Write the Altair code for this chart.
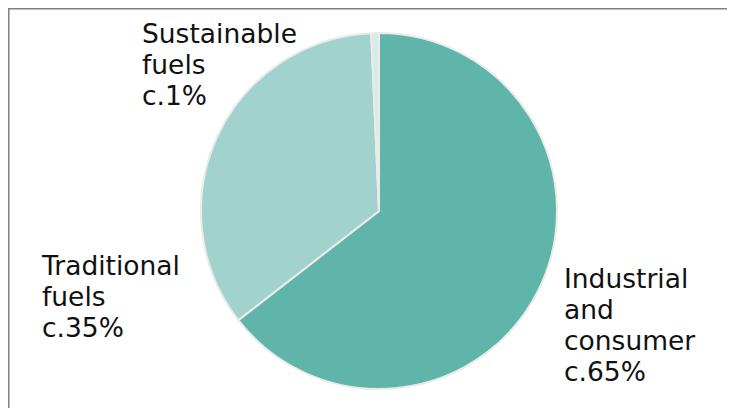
import altair as alt
import pandas as pd

categories = ["Industrial and consumer", "Traditional fuels", "Sustainable fuels"]
shares = [64.5, 34.8, 0.7]
order = [1, 2, 3]
colors = ["#5fb5a9", "#a1d3cc", "#d6ece8"]

df = pd.DataFrame({"category": categories, "share": shares, "order": order})

W, H = 719, 400
FONT = "DejaVu Sans"

pie = alt.Chart(df).mark_arc(outerRadius=178, stroke="#ebebeb", strokeWidth=2).encode(
    theta=alt.Theta("share:Q", stack=True),
    order=alt.Order("order:Q"),
    color=alt.Color("category:N", scale=alt.Scale(domain=categories, range=colors), legend=None),
    x=alt.value(371),
    y=alt.value(203),
)

one = alt.Data(values=[{}])

def label(lines, x, y):
    return alt.Chart(one).mark_text(
        text=lines, align="left", baseline="alphabetic", font=FONT, fontSize=26.5,
        lineHeight=31, color="#111111"
    ).encode(x=alt.value(x), y=alt.value(y))

lab_s = label(["Sustainable", "fuels", "c.1%"], 134, 35)
lab_t = label(["Traditional", "fuels", "c.35%"], 34, 267)
lab_i = label(["Industrial", "and", "consumer", "c.65%"], 556, 280)

left_rule = alt.Chart(one).mark_rule(color="#808080", strokeWidth=1.5).encode(
    x=alt.value(0.75), y=alt.value(0), y2=alt.value(H))
top_rule = alt.Chart(one).mark_rule(color="#808080", strokeWidth=1.5).encode(
    y=alt.value(0.75), x=alt.value(0), x2=alt.value(W))

chart = alt.layer(pie, lab_s, lab_t, lab_i, left_rule, top_rule).properties(
    width=W, height=H, padding=0, autosize=alt.AutoSizeParams(type="none")
).configure_view(stroke=None).configure(background="white")

chart.save("out.html", embed_options={"renderer": "svg", "actions": False})
